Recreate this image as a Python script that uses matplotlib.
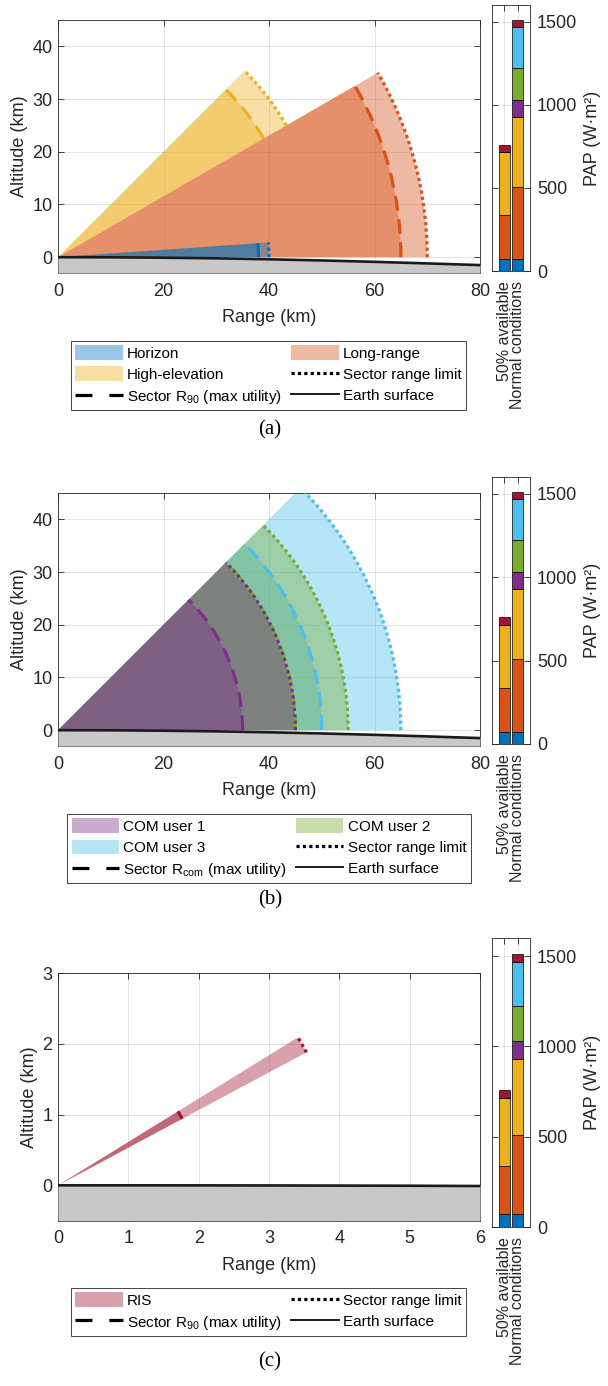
import matplotlib
matplotlib.use('Agg')
import matplotlib.pyplot as plt
from matplotlib.patches import Wedge, Arc, Patch
from matplotlib.lines import Line2D
from matplotlib.transforms import ScaledTranslation
import numpy as np

plt.rcParams['font.family'] = ['Liberation Sans', 'DejaVu Sans']
plt.rcParams['mathtext.fontset'] = 'custom'
plt.rcParams['mathtext.rm'] = 'Liberation Sans'
plt.rcParams['mathtext.it'] = 'Liberation Sans:italic'
plt.rcParams['mathtext.bf'] = 'Liberation Sans:bold'

# ---------------- colours (MATLAB default order) ----------------
C_BLUE = '#0072BD'
C_ORANGE = '#D95319'
C_YELLOW = '#EDB120'
C_PURPLE = '#7E2F8E'
C_GREEN = '#77AC30'
C_LBLUE = '#4DBEEE'
C_DRED = '#A2142F'
TXT = '#262626'

# ---------------- data ----------------
# Panel (a): sectors (drawing order)
A_NAMES = ['High-elevation', 'Long-range', 'Horizon']
A_COLORS = [C_YELLOW, C_ORANGE, C_BLUE]
A_THETA_MIN = [30, 0, 0]        # deg
A_THETA_MAX = [45, 30, 4]       # deg
A_R90 = [45, 65, 38]            # km
A_RLIM = [50, 70, 40]           # km

# Panel (b): COM users (drawing order)
B_NAMES = ['COM user 3', 'COM user 2', 'COM user 1']
B_COLORS = [C_LBLUE, C_GREEN, C_PURPLE]
B_THETA_MIN = [0, 0, 0]
B_THETA_MAX = [45, 45, 45]
B_RCOM = [50, 45, 35]
B_RLIM = [65, 55, 45]

# Panel (c): RIS
C_NAMES = ['RIS']
C_COLORS = [C_DRED]
C_THETA_MIN = [28]
C_THETA_MAX = [31.5]
C_R90 = [2.0]
C_RLIM = [4.0]

# Earth surface profiles
EARTH_AB_RANGE = [0, 10, 20, 30, 40, 50, 60, 70, 80]
EARTH_AB_ALT = [0, -0.02, -0.1, -0.22, -0.4, -0.62, -0.88, -1.18, -1.5]
EARTH_C_RANGE = [0, 1, 2, 3, 4, 5, 6]
EARTH_C_ALT = [0, 0, -0.001, -0.002, -0.004, -0.006, -0.01]

# PAP stacked bars
BAR_CATEGORIES = ['50% available', 'Normal conditions']
BAR_SEGMENTS = ['Horizon', 'Long-range', 'High-elevation', 'COM user 1',
                'COM user 2', 'COM user 3', 'RIS']
BAR_COLORS = [C_BLUE, C_ORANGE, C_YELLOW, C_PURPLE, C_GREEN, C_LBLUE, C_DRED]
BAR_50 = [70, 267, 376, 0, 0, 0, 46]
BAR_NORMAL = [70, 438, 421, 101, 191, 247, 44]

A_XTICKS = [0, 20, 40, 60, 80]
A_YTICKS = [0, 10, 20, 30, 40]
C_XTICKS = [0, 1, 2, 3, 4, 5, 6]
C_YTICKS = [0, 1, 2, 3]
BAR_YTICKS = [0, 500, 1000, 1500]

ALPHA = 0.4
FS = 13
LW = 2.3

# ---------------- figure ----------------
W, H = 608, 1386
fig = plt.figure(figsize=(W / 100, H / 100), dpi=100)


def fr(x0, y0, x1, y1):
    """pixel box -> figure fraction rect"""
    return [x0 / W, 1 - y1 / H, (x1 - x0) / W, (y1 - y0) / H]


def style_axes(ax):
    for s in ax.spines.values():
        s.set_color(TXT)
        s.set_linewidth(0.6)
    ax.tick_params(direction='in', length=4, width=0.6, color=TXT,
                   labelcolor=TXT, labelsize=FS, top=True, right=True)
    ax.grid(True, color=TXT, alpha=0.15, lw=0.6)
    ax.set_axisbelow(True)


def draw_panel(ax, tmin, tmax, r90, rlim, colors, earth_x, earth_y,
               xlim, ylim, xticks, yticks):
    for t1, t2, ri, rl, c in zip(tmin, tmax, r90, rlim, colors):
        ax.add_patch(Wedge((0, 0), rl, t1, t2, facecolor=c, alpha=ALPHA,
                           edgecolor='none', zorder=2))
        ax.add_patch(Wedge((0, 0), ri, t1, t2, facecolor=c, alpha=ALPHA,
                           edgecolor='none', zorder=2))
    for t1, t2, ri, rl, c in zip(tmin, tmax, r90, rlim, colors):
        ax.add_patch(Arc((0, 0), 2 * ri, 2 * ri, theta1=t1, theta2=t2,
                         color=c, lw=LW, linestyle=(0, (4.7, 2.6)), zorder=4))
        ax.add_patch(Arc((0, 0), 2 * rl, 2 * rl, theta1=t1, theta2=t2,
                         color=c, lw=LW, linestyle=(0, (1, 1)), zorder=4))
    ax.fill_between(earth_x, earth_y, ylim[0], color='#C8C8C8', lw=0, zorder=3)
    ax.plot(earth_x, earth_y, color='#1a1a1a', lw=1.9, zorder=5)
    ax.set_xlim(xlim)
    ax.set_ylim(ylim)
    ax.set_xticks(xticks)
    ax.set_yticks(yticks)
    style_axes(ax)
    ax.tick_params(axis='x', pad=7)
    ax.tick_params(axis='y', pad=4)
    ax.set_xlabel('Range (km)', fontsize=FS, color=TXT, labelpad=7)
    ax.set_ylabel('Altitude (km)', fontsize=FS, color=TXT, labelpad=3)


LABEL_SHIFT_PX = [-1.0, 4.5]


def draw_bars(axb):
    bottoms = np.zeros(2)
    for name, c, v50, vn in zip(BAR_SEGMENTS, BAR_COLORS, BAR_50, BAR_NORMAL):
        vals = np.array([v50, vn], dtype=float)
        axb.bar([1, 2], vals, bottom=bottoms, width=0.8, color=c,
                edgecolor='k', lw=0.5, zorder=3)
        bottoms += vals
    axb.set_xlim(0.1, 2.9)
    axb.set_ylim(0, 1600)
    axb.set_yticks(BAR_YTICKS)
    axb.set_xticks([1, 2])
    style_axes(axb)
    axb.set_xticklabels(BAR_CATEGORIES, rotation=90, va='top', ha='center',
                        fontsize=11.5)
    for lab, dx in zip(axb.get_xticklabels(), LABEL_SHIFT_PX):
        lab.set_transform(lab.get_transform() +
                          ScaledTranslation(dx / 100, 0, fig.dpi_scale_trans))
    axb.tick_params(axis='y', labelleft=False, labelright=True, pad=5)
    axb.tick_params(axis='x', pad=7)
    axb.yaxis.set_label_position('right')
    axb.set_ylabel('PAP (W·m²)', fontsize=FS, color=TXT, labelpad=5)


def make_legend(fill_names, fill_colors, r_label, center, order):
    h = {}
    for n, c in zip(fill_names, fill_colors):
        h[n] = Patch(facecolor=c, alpha=ALPHA, edgecolor='none')
    h['Sector range limit'] = Line2D([], [], color='k', lw=LW,
                                     linestyle=(0, (1, 1)))
    h[r_label] = Line2D([], [], color='k', lw=LW,
                        linestyle=(0, (5.3, 5.3)))
    h['Earth surface'] = Line2D([], [], color='#1a1a1a', lw=1.4)
    leg = fig.legend([h[k] for k in order], order, ncol=2, loc='center',
                     bbox_to_anchor=center, fontsize=11, frameon=True,
                     fancybox=False, edgecolor=TXT, framealpha=1,
                     handlelength=3.1, handleheight=1.1, handletextpad=0.3,
                     columnspacing=0.6, labelspacing=0.38, borderpad=0.3,
                     borderaxespad=0)
    leg.get_frame().set_linewidth(0.6)
    return leg


R90_LABEL = r'Sector R$_{\mathregular{90}}$ (max utility)'
RCOM_LABEL = r'Sector R$_{\mathregular{com}}$ (max utility)'

# ---- panel (a)
axa = fig.add_axes(fr(58, 20, 480, 273))
draw_panel(axa, A_THETA_MIN, A_THETA_MAX, A_R90, A_RLIM, A_COLORS,
           EARTH_AB_RANGE, EARTH_AB_ALT, (0, 80), (-3, 45), A_XTICKS, A_YTICKS)
axab = fig.add_axes(fr(492, 5, 530, 271))
draw_bars(axab)
make_legend(A_NAMES, A_COLORS, R90_LABEL, (268.5 / W, 1 - 375.5 / H),
            ['Horizon', 'High-elevation', R90_LABEL,
             'Long-range', 'Sector range limit', 'Earth surface'])
fig.text(270 / W, 1 - 430 / H, '(a)', ha='center', va='center',
         family='Liberation Serif', fontsize=15, color='k')

# ---- panel (b)
axb = fig.add_axes(fr(58, 493, 480, 746))
draw_panel(axb, B_THETA_MIN, B_THETA_MAX, B_RCOM, B_RLIM, B_COLORS,
           EARTH_AB_RANGE, EARTH_AB_ALT, (0, 80), (-3, 45), A_XTICKS, A_YTICKS)
axbb = fig.add_axes(fr(492, 477, 530, 744))
draw_bars(axbb)
make_legend(B_NAMES, B_COLORS, RCOM_LABEL, (269 / W, 1 - 848.5 / H),
            ['COM user 1', 'COM user 3', RCOM_LABEL,
             'COM user 2', 'Sector range limit', 'Earth surface'])
fig.text(270 / W, 1 - 900 / H, '(b)', ha='center', va='center',
         family='Liberation Serif', fontsize=15, color='k')

# ---- panel (c)
axc = fig.add_axes(fr(58, 973, 480, 1220.7))
draw_panel(axc, C_THETA_MIN, C_THETA_MAX, C_R90, C_RLIM, C_COLORS,
           EARTH_C_RANGE, EARTH_C_ALT, (0, 6), (-0.5, 3), C_XTICKS, C_YTICKS)
axcb = fig.add_axes(fr(492, 938, 530, 1227))
draw_bars(axcb)
make_legend(C_NAMES, C_COLORS, R90_LABEL, (268.5 / W, 1 - 1312 / H),
            ['RIS', R90_LABEL, 'Sector range limit', 'Earth surface'])
fig.text(270 / W, 1 - 1362 / H, '(c)', ha='center', va='center',
         family='Liberation Serif', fontsize=15, color='k')

fig.savefig('out.png', dpi=100)
